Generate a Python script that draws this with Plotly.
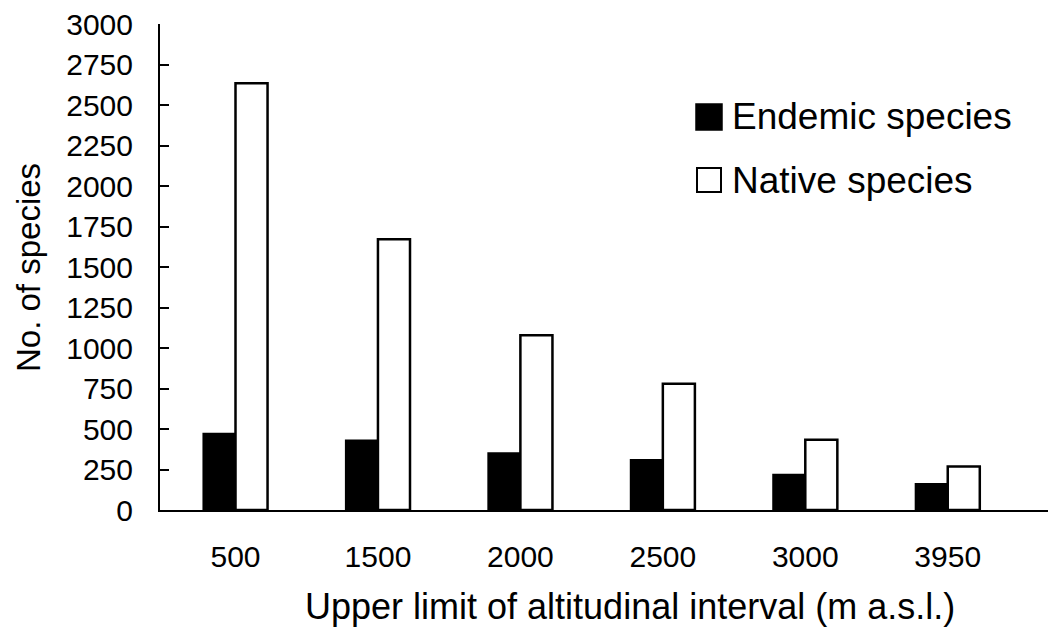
import plotly.graph_objects as go

categories = ["500", "1500", "2000", "2500", "3000", "3950"]
endemic = [470, 429, 351, 309, 217, 161]
native = [2634, 1671, 1079, 780, 433, 268]
y_ticks = [0, 250, 500, 750, 1000, 1250, 1500, 1750, 2000, 2250, 2500, 2750, 3000]
series_names = ["Endemic species", "Native species"]

FONT = "Liberation Sans, Arial, sans-serif"

fig = go.Figure()
fig.add_trace(go.Bar(x=categories, y=endemic, name=series_names[0],
                     marker=dict(color="black", line=dict(color="black", width=2)),
                     showlegend=False))
fig.add_trace(go.Bar(x=categories, y=native, name=series_names[1],
                     marker=dict(color="white", line=dict(color="black", width=2.5)),
                     showlegend=False))

# page body has an 8px margin; compensate so the plot lands where the reference has it
OFF = 8
W, H = 1056, 633
L, R, T, B = 160 - OFF, OFF, 24 - OFF, 123 + OFF
pw, ph = W - L - R, H - T - B

def px_x(px):
    # px = screen pixel
    return (px - OFF - L) / pw

def px_y(py):
    return (H - B - (py - OFF)) / ph

# legend drawn as shapes + text
fig.add_shape(type="rect", xref="paper", yref="paper",
              x0=px_x(696), x1=px_x(722), y0=px_y(130), y1=px_y(104),
              fillcolor="black", line=dict(color="black", width=1.5))
fig.add_shape(type="rect", xref="paper", yref="paper",
              x0=px_x(697), x1=px_x(721), y0=px_y(192), y1=px_y(168),
              fillcolor="white", line=dict(color="black", width=2))
fig.add_annotation(x=px_x(730), y=px_y(117), xref="paper", yref="paper",
                   text=series_names[0], showarrow=False, xanchor="left", yanchor="middle",
                   font=dict(size=37, color="black", family=FONT))
fig.add_annotation(x=px_x(730), y=px_y(180), xref="paper", yref="paper",
                   text=series_names[1], showarrow=False, xanchor="left", yanchor="middle",
                   font=dict(size=37, color="black", family=FONT))

# axis titles
fig.add_annotation(x=px_x(630), y=px_y(606), xref="paper", yref="paper",
                   text="Upper limit of altitudinal interval (m a.s.l.)", showarrow=False,
                   xanchor="center", yanchor="middle",
                   font=dict(size=36, color="black", family=FONT))
fig.add_annotation(x=px_x(28), y=px_y(268), xref="paper", yref="paper",
                   text="No. of species", showarrow=False, textangle=-90,
                   xanchor="center", yanchor="middle",
                   font=dict(size=33, color="black", family=FONT))

fig.update_layout(
    width=W, height=H,
    margin=dict(l=L, r=R, t=T, b=B, pad=0, autoexpand=False),
    paper_bgcolor="white", plot_bgcolor="white",
    barmode="group", bargap=0.55, bargroupgap=0,
    font=dict(family=FONT, color="black"),
)
fig.update_xaxes(
    type="category", range=[-0.53, 5.76], automargin=False,
    showline=True, linecolor="black", linewidth=2,
    ticks="", showgrid=False, zeroline=False,
    tickfont=dict(size=30, color="black", family=FONT),
    ticklabelstandoff=19,
)
fig.update_yaxes(
    range=[0, 3000], tickvals=y_ticks, ticktext=[str(v) for v in y_ticks],
    automargin=False,
    showline=True, linecolor="black", linewidth=2,
    ticks="inside", ticklen=9, tickwidth=2, tickcolor="black",
    showgrid=False, zeroline=False,
    tickfont=dict(size=30, color="black", family=FONT),
    ticklabelstandoff=19, ticklabeloverflow="allow",
)

fig.write_html("out.html")
